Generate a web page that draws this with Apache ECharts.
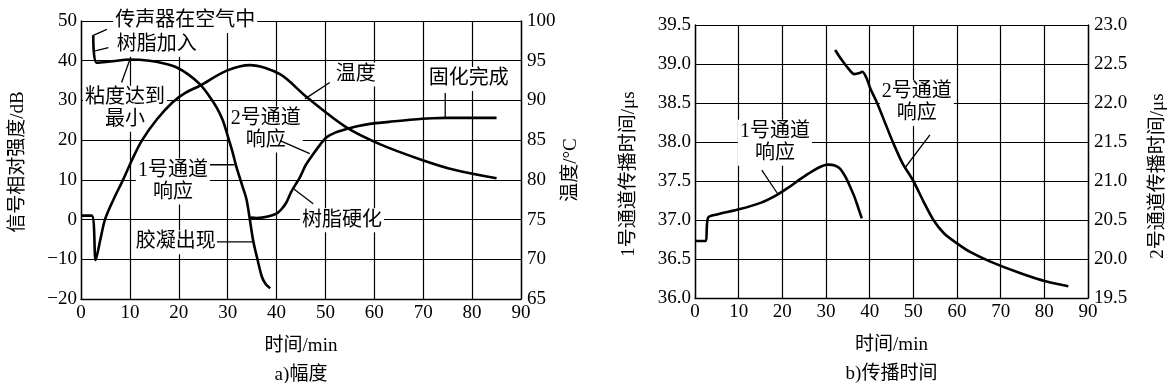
<!DOCTYPE html>
<html><head><meta charset="utf-8">
<script src="https://cdn.jsdelivr.net/npm/echarts@6/dist/echarts.min.js"></script>
<style>html,body{margin:0;padding:0;background:#fff}#c{width:1172px;height:383px}</style>
</head><body><div id="c"></div>
<script>
// ---------- data: chart a) amplitude ----------
const tempA = [[0,75.5],[2.2,75.5],[3,69.9],[4,72.6],[4.9,75],[6.7,77.6],[8.6,80],[10.5,82.6],[12.5,85],[15.5,87.6],[18.8,89.8],[21.5,91.0],[24.3,91.85],[29.8,93.75],[34.6,94.45],[40.7,93.3],[46.2,90.4],[54.3,86.6],[61.1,84.5],[69.3,82.6],[76.1,81.3],[85,80.2]];
const ch1A = [[2.5,46.4],[3.2,39.5],[6,39.8],[10,40.3],[14,40],[17,39.3],[19.6,38.3],[22,36.5],[24.3,34.1],[26,31.5],[27.7,28.3],[29,25],[30.1,20.7],[31,17],[31.8,13.2],[33,8.5],[33.9,4.8],[35.2,-5.2],[36,-9.5],[37,-14.4],[37.8,-16.3],[38.7,-17.3]];
const ch2A = [[34.6,0.5],[36,0.4],[38,0.7],[40,1.5],[41,2.6],[42,4.3],[43,7],[44.8,10.7],[46,13.8],[47.5,16.5],[49,19],[50.2,20.7],[52,21.9],[54.3,22.8],[56.5,23.5],[59.1,24.1],[63,24.6],[68,25.2],[72,25.5],[74.8,25.6],[85,25.6]];
// ---------- data: chart b) propagation time ----------
const ch1B = [[0,36.73],[2.3,36.73],[3,37.03],[5,37.07],[10.3,37.14],[15,37.22],[18.7,37.32],[21.5,37.42],[24,37.52],[27,37.63],[29,37.69],[30.5,37.71],[32,37.70],[33.2,37.66],[34.5,37.55],[35.5,37.43],[36.5,37.30],[37.3,37.17],[38.2,37.02]];
const ch2B = [[32.1,22.68],[33.5,22.56],[35,22.45],[36.5,22.37],[37.5,22.38],[38.3,22.40],[39.2,22.33],[40.2,22.18],[41.7,22.0],[43.5,21.75],[45.3,21.5],[47.5,21.23],[50,21.0],[52.3,20.74],[54.6,20.5],[57,20.33],[60,20.2],[63,20.09],[67.5,19.97],[74.4,19.82],[80.5,19.71],[85.5,19.65]];
// ---------- ticks ----------
const xTickRange = [0, 90, 10];
const ampRange = [-20, 50, 10];
const tempRange = [65, 100, 5];
const t1Range = [36, 39.5, 0.5];
const t2Range = [19.5, 23, 0.5];
// ---------- annotations (data coords) ----------
const labelsA = [
  ['传声器在空气中', 21.3, 50],
  ['树脂加入', 15.5, 44],
  ['粘度达到\n最小', 9, 27.9],
  ['2号通道\n响应', 37.8, 22.7],
  ['1号通道\n响应', 18.8, 9.6],
  ['胶凝出现', 19.4, -5.7],
  ['树脂硬化', 53.4, -0.2],
  ['温度', 56.2, 36.5],
  ['固化完成', 79.3, 35.4]
];
const leadersA = [
  [[2.5,46.4],[5.3,47.9]],
  [[2.9,42.5],[5.6,43.3]],
  [[8.3,34.5],[10,40.3]],
  [[26.4,13.8],[31.4,13.8]],
  [[27.8,-5.6],[35.2,-5.6]],
  [[43.2,8],[47.5,4]],
  [[40.7,19.9],[46.8,16.6]],
  [[50.9,34.5],[45.8,30.4]],
  [[74.5,31.9],[74.5,25.6]]
];
const labelsB = [
  ['1号通道\n响应', 18.3, 37.99, 0],
  ['2号通道\n响应', 50.8, 22.0, 1]
];
const leadersB = [
  [[15.3,37.64],[19,37.33], 0],
  [[53.8,21.59],[48.1,21.17], 1]
];
// y-axis titles (text only)
const yTitles = ['信号相对强度/dB', '温度/°C', '1号通道传播时间/μs', '2号通道传播时间/μs'];

// ---------- layout ----------
const FONT = "'Liberation Serif','Noto Sans CJK SC',serif";
const yTitlePos = [[18,162],[571,170],[629,174],[1158,176]];

const chart = echarts.init(document.getElementById('c'), null, {renderer:'canvas'});

function xAxis(grid, name) {
  return {
    gridIndex: grid, type:'value', min:xTickRange[0], max:xTickRange[1], interval:xTickRange[2],
    name: name, nameLocation:'middle', nameGap: 33,
    nameTextStyle:{color:'#000', fontSize:19, fontFamily:FONT, lineHeight:29},
    axisLine:{onZero:false, lineStyle:{color:'#000', width:1.4}},
    axisTick:{show:false},
    axisLabel:{color:'#000', fontSize:19, fontFamily:FONT, margin:5},
    splitLine:{show:true, lineStyle:{color:'#000', width:1.2}}
  };
}
function yAxis(grid, r, pos, split, fmt) {
  return {
    gridIndex: grid, type:'value', position:pos, min:r[0], max:r[1], interval:r[2],
    axisLine:{show:true, onZero:false, lineStyle:{color:'#000', width:1.4}},
    axisTick:{show:false},
    axisLabel:{color:'#000', fontSize:19, fontFamily:FONT, margin: pos==='left'?4:6, formatter: fmt},
    splitLine:{show:split, lineStyle:{color:'#000', width:1.2}}
  };
}
const minus = v => String(v).replace('-', '\u2212');
const fix1 = v => v.toFixed(1);

const curveStyle = {color:'#000', width:2.6};
const series = [
  {type:'line', xAxisIndex:0, yAxisIndex:1, data:tempA, smooth:0.3, showSymbol:false, lineStyle:curveStyle, z:5},
  {type:'line', xAxisIndex:0, yAxisIndex:0, data:ch1A, smooth:0.3, showSymbol:false, lineStyle:curveStyle, z:5},
  {type:'line', xAxisIndex:0, yAxisIndex:0, data:ch2A, smooth:0.3, showSymbol:false, lineStyle:curveStyle, z:5},
  {type:'line', xAxisIndex:1, yAxisIndex:2, data:ch1B, smooth:0.3, showSymbol:false, lineStyle:curveStyle, z:5},
  {type:'line', xAxisIndex:1, yAxisIndex:3, data:ch2B, smooth:0.3, showSymbol:false, lineStyle:curveStyle, z:5}
];
leadersA.forEach(l => series.push({type:'line', xAxisIndex:0, yAxisIndex:0, data:l, showSymbol:false, lineStyle:{color:'#000', width:1.3}, z:4}));
leadersB.forEach(l => series.push({type:'line', xAxisIndex:1, yAxisIndex:l[2]===0?2:3, data:[l[0],l[1]], showSymbol:false, lineStyle:{color:'#000', width:1.3}, z:4}));

chart.setOption({
  animation:false,
  backgroundColor:'#fff',
  grid:[
    {left:81, right:651, top:21, bottom:84, containLabel:false, outerBoundsMode:'none'},
    {left:695, right:84, top:25, bottom:85, containLabel:false, outerBoundsMode:'none'}
  ],
  xAxis:[xAxis(0,'时间/min\na)幅度'), xAxis(1,'时间/min\nb)传播时间')],
  yAxis:[
    yAxis(0, ampRange, 'left', true, minus),
    yAxis(0, tempRange, 'right', false, null),
    yAxis(1, t1Range, 'left', true, fix1),
    yAxis(1, t2Range, 'right', false, fix1)
  ],
  series: series
});

function txt(text, p) {
  return {type:'text', x:p[0], y:p[1], z:1,
    style:{text:text, fontSize:20, fontFamily:FONT, fill:'#000', align:'center', verticalAlign:'middle',
      lineHeight:22, backgroundColor:'#fff', padding:[1,2]}};
}
const g = [];
labelsA.forEach(l => g.push(txt(l[0], chart.convertToPixel({xAxisIndex:0, yAxisIndex:0}, [l[1], l[2]]))));
labelsB.forEach(l => g.push(txt(l[0], chart.convertToPixel({xAxisIndex:1, yAxisIndex:l[3]===0?2:3}, [l[1], l[2]]))));
yTitles.forEach((t, i) => g.push({type:'text', x:yTitlePos[i][0], y:yTitlePos[i][1], rotation:Math.PI/2, z:1,
  style:{text:t, fontSize:19, fontFamily:FONT, fill:'#000', align:'center', verticalAlign:'middle'}}));
chart.setOption({graphic: g});
</script>
</body></html>
